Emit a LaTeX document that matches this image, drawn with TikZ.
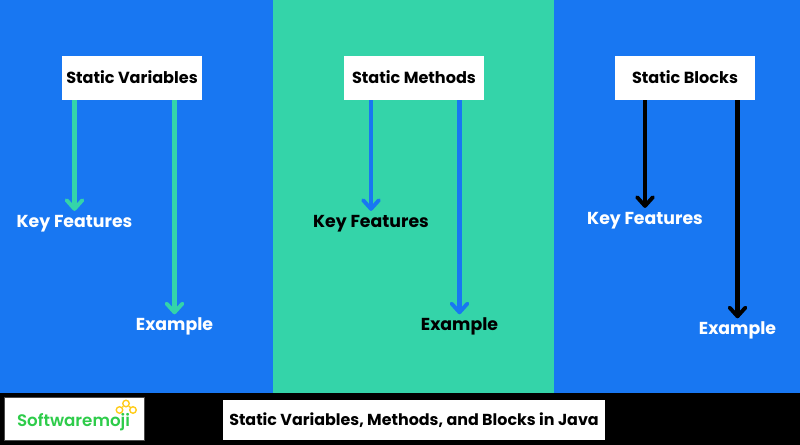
\documentclass[tikz,border=0pt]{standalone}
\usepackage{fontspec}
\setmainfont{Poppins}
\newfontfamily\logofont{Poppins SemiBold}
\usetikzlibrary{arrows.meta}
\definecolor{panelblue}{HTML}{1877F2}
\definecolor{panelgreen}{HTML}{34D4A9}
\definecolor{logogreen}{HTML}{2ECC4A}
\definecolor{logoyellow}{HTML}{FFCC1A}
\tikzset{
	headbox/.style={fill=white,minimum width=2.8cm,minimum height=.88cm,inner sep=0pt,text depth=1pt,font=\bfseries\fontsize{9.15}{11}\selectfont},
	itemtext/.style={inner sep=0pt,inner ysep=2.5pt,font=\bfseries\fontsize{9.85}{12}\selectfont},
	extext/.style={itemtext,inner ysep=1.5pt},
	itemarrow/.style={line width=2.4pt,-{Straight Barb[length=5pt,width=9pt,line width=2.2pt,round]}},
	iconball/.style={circle,draw=logoyellow,line width=.8pt,fill=white,minimum size=.13cm,inner sep=0pt}
}
\begin{document}
\begin{tikzpicture}
	
	\useasboundingbox (0,0) rectangle (16,8.9);
	\fill[panelblue] (0,1.04) rectangle (5.46,8.9);
	\fill[panelgreen] (5.46,1.04) rectangle (11.08,8.9);
	\fill[panelblue] (11.08,1.04) rectangle (16,8.9);
	\fill[black] (0,0) rectangle (16,1.04);
	
	\node[headbox] (vars) at (2.64,7.34) {Static Variables};
	\node[headbox] (meth) at (8.28,7.34) {Static Methods};
	\node[headbox] (blck) at (13.7,7.34) {Static Blocks};
	
	\node[itemtext,white] (varskey) at (1.49,4.42) {Key Features};
	\node[extext,white] (varsex) at (3.49,2.38) {Example};
	\node[itemtext,black] (methkey) at (7.42,4.42) {Key Features};
	\node[extext,black] (methex) at (9.19,2.38) {Example};
	\node[itemtext,white] (blckkey) at (12.9,4.48) {Key Features};
	\node[extext,white] (blckex) at (14.75,2.3) {Example};
	
	\draw[itemarrow,panelgreen] (varskey.north |- vars.south) -- (varskey.north);
	\draw[itemarrow,panelgreen] (varsex.north |- vars.south) -- (varsex.north);
	\draw[itemarrow,panelblue] (methkey.north |- meth.south) -- (methkey.north);
	\draw[itemarrow,panelblue] (methex.north |- meth.south) -- (methex.north);
	\draw[itemarrow,black] (blckkey.north |- blck.south) -- (blckkey.north);
	\draw[itemarrow,black] (blckex.north |- blck.south) -- (blckex.north);
	
	% bottom bar
	\node[fill=white,draw=black!70,line width=.5pt,minimum width=2.8cm,minimum height=.86cm,inner sep=0pt] (logo) at (1.48,.52) {};
	\node[inner sep=0pt,text=logogreen,font=\logofont\fontsize{9.5}{12}\selectfont] (logoname) at (1.47,.46) {Softwaremoji};
	\node[iconball] (icona) at (2.39,.7) {};
	\node[iconball] (iconb) at (2.52,.83) {};
	\node[iconball] (iconc) at (2.66,.7) {};
	\draw[logoyellow,line width=.8pt] (icona) -- (iconb) -- (iconc);
	\node[fill=white,minimum width=7.64cm,minimum height=.8cm,inner sep=0pt,font=\bfseries\fontsize{9.05}{11}\selectfont] (title) at (8.28,.5) {Static Variables, Methods, and Blocks in Java};
	
\end{tikzpicture}
\end{document}
